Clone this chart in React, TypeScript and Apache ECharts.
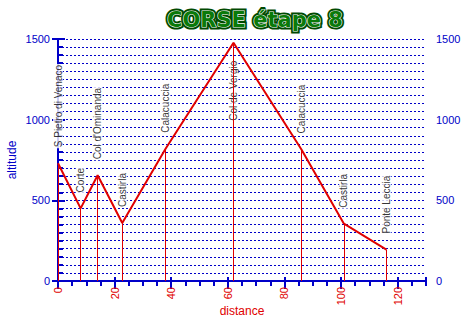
import React, { useEffect, useRef } from "react";
import * as echarts from "echarts";

const placeNames = [
  "S Pietro di Venaco",
  "Corte",
  "Col d'Ominanda",
  "Castirla",
  "Calacuccia",
  "Col de Vergio",
  "Calacuccia",
  "Castirla",
  "Ponte Leccia",
];
const distances = [0, 8, 14, 22.7, 38, 62, 86, 101, 116];
const altitudes = [730, 450, 655, 360, 820, 1477, 815, 355, 195];
const belowLabel = ["Col de Vergio"];

const BLUE = "#0000c8";
const RED = "#e00000";
const FONT = "Liberation Sans";
const plain = (v: number) => String(v);

export default function App() {
  const ref = useRef<HTMLDivElement>(null);
  useEffect(() => {
    if (!ref.current) return;
    const chart = echarts.init(ref.current, undefined, { renderer: "svg" });
    const points = distances.map((d, i) => [d, altitudes[i]]);
    const option: any = {
      animation: false,
      backgroundColor: "#ffffff",
      graphic: [
        {
          type: "text",
          x: 255,
          y: 9,
          z: 10,
          style: {
            text: "CORSE étape 8",
            x: 0,
            y: 0,
            textAlign: "center",
            textVerticalAlign: "top",
            font: "bold 21px 'DejaVu Sans'",
            fill: "#004a00",
            stroke: "#004a00",
            lineWidth: 5,
          },
        },
        {
          type: "text",
          x: 255,
          y: 9,
          z: 11,
          style: {
            text: "CORSE étape 8",
            x: 0,
            y: 0,
            textAlign: "center",
            textVerticalAlign: "top",
            font: "bold 21px 'DejaVu Sans'",
            fill: "#0a7a0a",
            stroke: "#ffffff",
            lineWidth: 1.2,
          },
        },
      ],
      grid: {
        left: 58,
        right: 36,
        top: 39,
        bottom: 41,
        containLabel: false,
        outerBoundsMode: "none",
      },
      xAxis: [
        {
          type: "value",
          position: "bottom",
          min: 0,
          max: 130,
          interval: 20,
          axisLine: { show: true, lineStyle: { color: BLUE, width: 2 } },
          axisTick: { show: true, length: 8, lineStyle: { color: BLUE, width: 2 } },
          axisLabel: {
            show: true,
            color: RED,
            rotate: 90,
            margin: 6,
            fontFamily: FONT,
            fontSize: 11,
            showMaxLabel: false,
            formatter: plain,
          },
          splitLine: { show: false },
          name: "distance",
          nameLocation: "middle",
          nameGap: 24,
          nameMoveOverlap: false,
          nameTextStyle: { color: RED, fontFamily: FONT, fontSize: 12 },
        },
        {
          type: "value",
          position: "bottom",
          min: 0,
          max: 130,
          interval: 5,
          axisLine: { show: false },
          axisTick: { show: true, length: 5, lineStyle: { color: BLUE, width: 2 } },
          axisLabel: { show: false },
          splitLine: { show: false },
        },
        {
          type: "value",
          position: "top",
          min: 0,
          max: 130,
          interval: 20,
          axisLine: { show: true, lineStyle: { color: BLUE, width: 2 } },
          axisTick: { show: true, length: 4, lineStyle: { color: BLUE, width: 2 } },
          axisLabel: { show: false },
          splitLine: { show: false },
        },
      ],
      yAxis: [
        {
          type: "value",
          position: "left",
          min: 0,
          max: 1500,
          interval: 500,
          axisLine: { show: true, lineStyle: { color: BLUE, width: 2 } },
          axisTick: { show: true, length: 6, lineStyle: { color: BLUE, width: 2 } },
          axisLabel: { color: BLUE, margin: 8, fontFamily: FONT, fontSize: 11, formatter: plain },
          splitLine: { show: false },
          name: "altitude",
          nameLocation: "middle",
          nameGap: 40,
          nameMoveOverlap: false,
          nameTextStyle: { color: BLUE, fontFamily: FONT, fontSize: 12 },
        },
        {
          type: "value",
          position: "left",
          min: 0,
          max: 1500,
          interval: 50,
          axisLine: { show: false },
          axisTick: { show: true, inside: true, length: 5, lineStyle: { color: BLUE, width: 2 } },
          axisLabel: { show: false },
          splitLine: { show: true, lineStyle: { color: BLUE, width: 1, type: [2, 2] } },
        },
        {
          type: "value",
          position: "right",
          min: 0,
          max: 1500,
          interval: 500,
          axisLine: { show: true, lineStyle: { color: BLUE, width: 2 } },
          axisTick: { show: true, length: 7, lineStyle: { color: BLUE, width: 2 } },
          minorTick: { show: true, splitNumber: 10, length: 3, lineStyle: { color: BLUE, width: 2 } },
          axisLabel: { color: BLUE, margin: 10, fontFamily: FONT, fontSize: 11, formatter: plain },
          splitLine: { show: false },
        },
      ],
      series: [
        {
          type: "line",
          xAxisIndex: 0,
          yAxisIndex: 0,
          data: points,
          showSymbol: false,
          symbol: "none",
          lineStyle: { color: RED, width: 2 },
          itemStyle: { color: RED },
          z: 3,
          markLine: {
            silent: true,
            symbol: ["none", "none"],
            label: { show: false },
            lineStyle: { color: RED, width: 1, type: "solid", opacity: 1 },
            data: points.map((p) => [
              { coord: [p[0], 0], lineStyle: { color: RED, width: 1, type: "solid" } },
              { coord: [p[0], p[1]] },
            ]),
          },
        },
        {
          type: "scatter",
          xAxisIndex: 0,
          yAxisIndex: 0,
          symbolSize: 0,
          z: 4,
          data: points.map((p, i) => {
            const below = belowLabel.includes(placeNames[i]);
            return {
              value: p,
              name: placeNames[i],
              label: below
                ? { position: "bottom", align: "right", distance: 17 }
                : { position: "top", align: "left", distance: 15 },
            };
          }),
          label: {
            show: true,
            formatter: (pp: any) => pp.name,
            rotate: 90,
            verticalAlign: "middle",
            color: "#000000",
            fontFamily: FONT,
            fontSize: 10,
            backgroundColor: "#ffffff",
            padding: [0, 1],
          },
        },
      ],
    };
    chart.setOption(option);
    return () => chart.dispose();
  }, []);
  return (
    <div
      ref={ref}
      style={{ position: "fixed", left: 0, top: 0, width: 462, height: 322 }}
    />
  );
}
